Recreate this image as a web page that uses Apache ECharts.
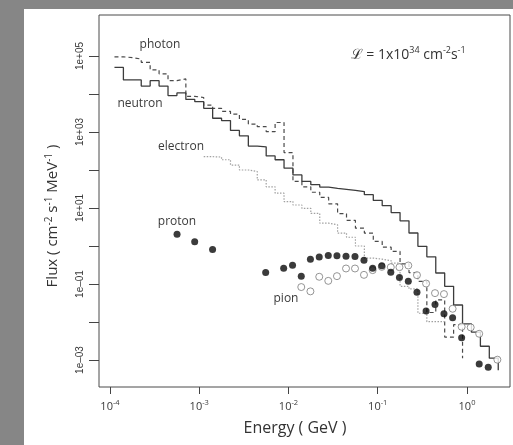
<!DOCTYPE html>
<html><head><meta charset="utf-8">
<script src="https://cdn.jsdelivr.net/npm/echarts@6/dist/echarts.min.js"></script>
<style>
html,body{margin:0;padding:0;width:513px;height:445px;overflow:hidden;background:#868686;}
#panel{position:absolute;left:24px;top:9px;width:489px;height:436px;background:#fff;}
#chart{position:absolute;left:0;top:0;width:513px;height:445px;}
</style></head><body>
<div id="panel"></div><div id="chart"></div>
<script>
// Bin edges (GeV) shared by the step histograms
const energyEdges = [
  1.122e-4, 1.413e-4, 1.778e-4, 2.239e-4, 2.818e-4, 3.548e-4, 4.467e-4, 5.623e-4, 7.079e-4, 8.913e-4,
  1.122e-3, 1.413e-3, 1.778e-3, 2.239e-3, 2.818e-3, 3.548e-3, 4.467e-3, 5.623e-3, 7.079e-3, 8.913e-3,
  1.122e-2, 1.413e-2, 1.778e-2, 2.239e-2, 2.818e-2, 3.548e-2, 4.467e-2, 5.623e-2, 7.079e-2, 8.913e-2,
  0.1122, 0.1413, 0.1778, 0.2239, 0.2818, 0.3548, 0.4467, 0.5623, 0.7079, 0.8913,
  1.122, 1.413, 1.778, 2.239
];
// neutron flux per bin (from bin 0)
const neutronFlux = [
  5.0e4, 2.34e4, 2.34e4, 1.62e4, 2.24e4, 1.62e4, 9.1e3, 1.07e4, 7.2e3, 6.3e3,
  4.2e3, 2.3e3, 2.0e3, 1.1e3, 794, 427, 407, 234, 186, 112,
  74, 50, 41, 35.5, 33, 31, 29, 27, 22.4, 15.8,
  11.5, 7.6, 4.6, 2.2, 0.98, 0.52, 0.195, 0.087, 0.028, 0.0089,
  0.0054, 0.0023, 0.00112
];
const neutronTail = 0.00054;
// photon flux per bin (from bin 0)
const photonFlux = [
  9.5e4, 9.1e4, 8.3e4, 6.8e4, 4.3e4, 3.4e4, 2.24e4, 2.5e4, 8.7e3, 8.1e3,
  5.1e3, 4.2e3, 3.5e3, 2.95e3, 2.14e3, 1.62e3, 1.38e3, 1.02e3, 1.78e3, 288,
  50, 36, 26, 19, 12.9, 7.1, 4.7, 2.95, 2.19, 1.32,
  0.93, 0.72, 0.34, 0.20, 0.117, 0.0178, 0.038, 0.0040, 0.0085
];
const photonTail = 0.00112;
// electron flux per bin (starting at bin 10)
const electronStartBin = 10;
const electronFlux = [
  224, 219, 186, 135, 100, 91, 55, 36, 24.5, 14.8,
  12, 9.8, 7.2, 4.0, 3.6, 2.19, 1.7, 1.0, 0.48, 0.45,
  0.41, 0.355, 0.087, 0.074, 0.017, 0.0102, 0.0102
];
// proton points
const protonEnergy = [5.64e-4, 8.89e-4, 1.41e-3, 5.55e-3, 8.83e-3, 1.11e-2, 1.39e-2, 1.76e-2, 2.21e-2, 2.79e-2,
  3.49e-2, 4.41e-2, 5.56e-2, 7.01e-2, 8.77e-2, 0.111, 0.140, 0.175, 0.220, 0.275,
  0.348, 0.438, 0.552, 0.690, 0.871, 1.37, 1.73];
const protonFlux = [2.05, 1.29, 0.81, 0.20, 0.26, 0.31, 0.16, 0.45, 0.51, 0.56,
  0.55, 0.54, 0.53, 0.42, 0.26, 0.30, 0.205, 0.149, 0.119, 0.061,
  0.0194, 0.029, 0.0164, 0.0129, 0.00385, 0.00078, 0.00064];
// pion points
const pionEnergy = [1.39e-2, 1.76e-2, 2.21e-2, 2.79e-2, 3.49e-2, 4.41e-2, 5.56e-2, 7.01e-2, 8.77e-2, 0.111,
  0.140, 0.175, 0.220, 0.275, 0.348, 0.438, 0.552, 0.690, 0.871, 1.10, 1.37, 2.19];
const pionFlux = [0.083, 0.064, 0.155, 0.121, 0.161, 0.256, 0.256, 0.174, 0.232, 0.283,
  0.277, 0.277, 0.307, 0.171, 0.103, 0.0575, 0.0542, 0.0223, 0.0075, 0.0072, 0.0049, 0.00102];
// tick labels
const xTickExps = [-4, -3, -2, -1, 0];
const xTickLabels = ['10{s|-4}', '10{s|-3}', '10{s|-2}', '10{s|-1}', '10{s|0}'];
const yTickExps = [5, 3, 1, -1, -3];
const yTickLabels = ['1e+05', '1e+03', '1e+01', '1e\u201301', '1e\u201303'];

function steps(startBin, vals, tail) {
  const pts = vals.map((v, i) => [energyEdges[startBin + i], v]);
  pts.push([energyEdges[startBin + vals.length], tail != null ? tail : vals[vals.length - 1]]);
  return pts;
}
const zip = (a, b) => a.map((v, i) => [v, b[i]]);

// layout: tick axis grid (1e-4..1, 1e-3..1e5) and box grid
const TX0 = 110, TX1 = 467, TY0 = 56, TY1 = 360;
const BX0 = 99, BX1 = 510, BY0 = 15, BY1 = 387;
const pxPerDecX = (TX1 - TX0) / 4, pxPerDecY = (TY1 - TY0) / 8;

const FONT = "'Open Sans', 'Noto Sans', sans-serif";
const chart = echarts.init(document.getElementById('chart'), null, {renderer: 'canvas'});
chart.setOption({
  animation: false,
  backgroundColor: 'transparent',
  grid: [
    {left: BX0, top: BY0, width: BX1 - BX0, height: BY1 - BY0, show: true, borderColor: '#4a4a4a', borderWidth: 1, backgroundColor: 'transparent'},
    {left: TX0, top: TY0, width: TX1 - TX0, height: TY1 - TY0, show: false}
  ],
  xAxis: [
    {type: 'log', gridIndex: 0, show: false,
     min: Math.pow(10, -4 - (TX0 - BX0) / pxPerDecX), max: Math.pow(10, (BX1 - TX1) / pxPerDecX)},
    {type: 'log', gridIndex: 1, min: 1e-4, max: 1, position: 'bottom', offset: BY1 - TY1,
     axisLine: {show: false}, splitLine: {show: false},
     axisTick: {show: true, length: 7, lineStyle: {color: '#444', width: 1}},
     axisLabel: {margin: 12, color: '#3a3a3a', fontFamily: FONT, fontSize: 11,
       formatter: v => { const i = xTickExps.indexOf(Math.round(Math.log10(v))); return i >= 0 ? xTickLabels[i] : ''; },
       rich: {s: {fontSize: 7.5, fontFamily: FONT, color: '#3a3a3a', padding: [0, 0, 7, 0]}}}}
  ],
  yAxis: [
    {type: 'log', gridIndex: 0, show: false,
     min: Math.pow(10, -3 - (BY1 - TY1) / pxPerDecY), max: Math.pow(10, 5 + (TY0 - BY0) / pxPerDecY)},
    {type: 'log', gridIndex: 1, min: 1e-3, max: 1e5, position: 'left', offset: TX0 - BX0,
     axisLine: {show: false}, splitLine: {show: false},
     axisTick: {show: true, length: 10, lineStyle: {color: '#444', width: 1}},
     axisLabel: {rotate: 90, margin: 14, color: '#3a3a3a', fontFamily: "'Liberation Sans', Arial, sans-serif", fontSize: 10,
       formatter: v => { const i = yTickExps.indexOf(Math.round(Math.log10(v))); return i >= 0 ? yTickLabels[i] : ''; }}}
  ],
  series: [
    {name: 'neutron', type: 'line', xAxisIndex: 0, yAxisIndex: 0, step: 'end', symbol: 'none',
     lineStyle: {color: '#3c3c3c', width: 1.3}, data: steps(0, neutronFlux, neutronTail), z: 3},
    {name: 'photon', type: 'line', xAxisIndex: 0, yAxisIndex: 0, step: 'end', symbol: 'none',
     lineStyle: {color: '#4a4a4a', width: 1.2, type: [4, 3]}, data: steps(0, photonFlux, photonTail), z: 2},
    {name: 'electron', type: 'line', xAxisIndex: 0, yAxisIndex: 0, step: 'end', symbol: 'none',
     lineStyle: {color: '#a0a0a0', width: 1.2, type: [1.5, 1.5]}, data: steps(electronStartBin, electronFlux), z: 2},
    {name: 'pion', type: 'scatter', xAxisIndex: 0, yAxisIndex: 0, symbol: 'circle', symbolSize: 7,
     itemStyle: {color: '#fff', borderColor: '#7a7a7a', borderWidth: 1}, data: zip(pionEnergy, pionFlux), z: 5},
    {name: 'proton', type: 'scatter', xAxisIndex: 0, yAxisIndex: 0, symbol: 'circle', symbolSize: 7,
     itemStyle: {color: '#0a0a0a'}, data: zip(protonEnergy, protonFlux), z: 6}
  ],
  graphic: [
    {type: 'text', x: 160, y: 45, style: {text: 'photon', font: '12px ' + FONT, fill: '#3a3a3a', align: 'center', verticalAlign: 'middle'}},
    {type: 'text', x: 140, y: 104, style: {text: 'neutron', font: '12px ' + FONT, fill: '#3a3a3a', align: 'center', verticalAlign: 'middle'}},
    {type: 'text', x: 181, y: 147, style: {text: 'electron', font: '12px ' + FONT, fill: '#3a3a3a', align: 'center', verticalAlign: 'middle'}},
    {type: 'text', x: 177, y: 222, style: {text: 'proton', font: '12px ' + FONT, fill: '#3a3a3a', align: 'center', verticalAlign: 'middle'}},
    {type: 'text', x: 286, y: 299, style: {text: 'pion', font: '12px ' + FONT, fill: '#3a3a3a', align: 'center', verticalAlign: 'middle'}},
    {type: 'text', x: 351, y: 55, style: {text: '\u2112 = 1x10{s|34} cm{s|-2}s{s|-1}', font: '14px ' + FONT, fill: '#333', align: 'left', verticalAlign: 'middle',
      rich: {s: {fontSize: 9, fontFamily: FONT, fill: '#333', padding: [0, 0, 9, 0]}}}},
    {type: 'text', x: 295, y: 428, style: {text: 'Energy ( GeV )', font: '16px ' + FONT, fill: '#333', align: 'center', verticalAlign: 'middle'}},
    {type: 'text', x: 53, y: 216, rotation: Math.PI / 2, style: {text: 'Flux ( cm{s|-2} s{s|-1} MeV{s|-1} )', font: '15px ' + FONT, fill: '#333', align: 'center', verticalAlign: 'middle',
      rich: {s: {fontSize: 10, fontFamily: FONT, fill: '#333', padding: [0, 0, 8, 0]}}}}
  ]
});
</script>
</body></html>
